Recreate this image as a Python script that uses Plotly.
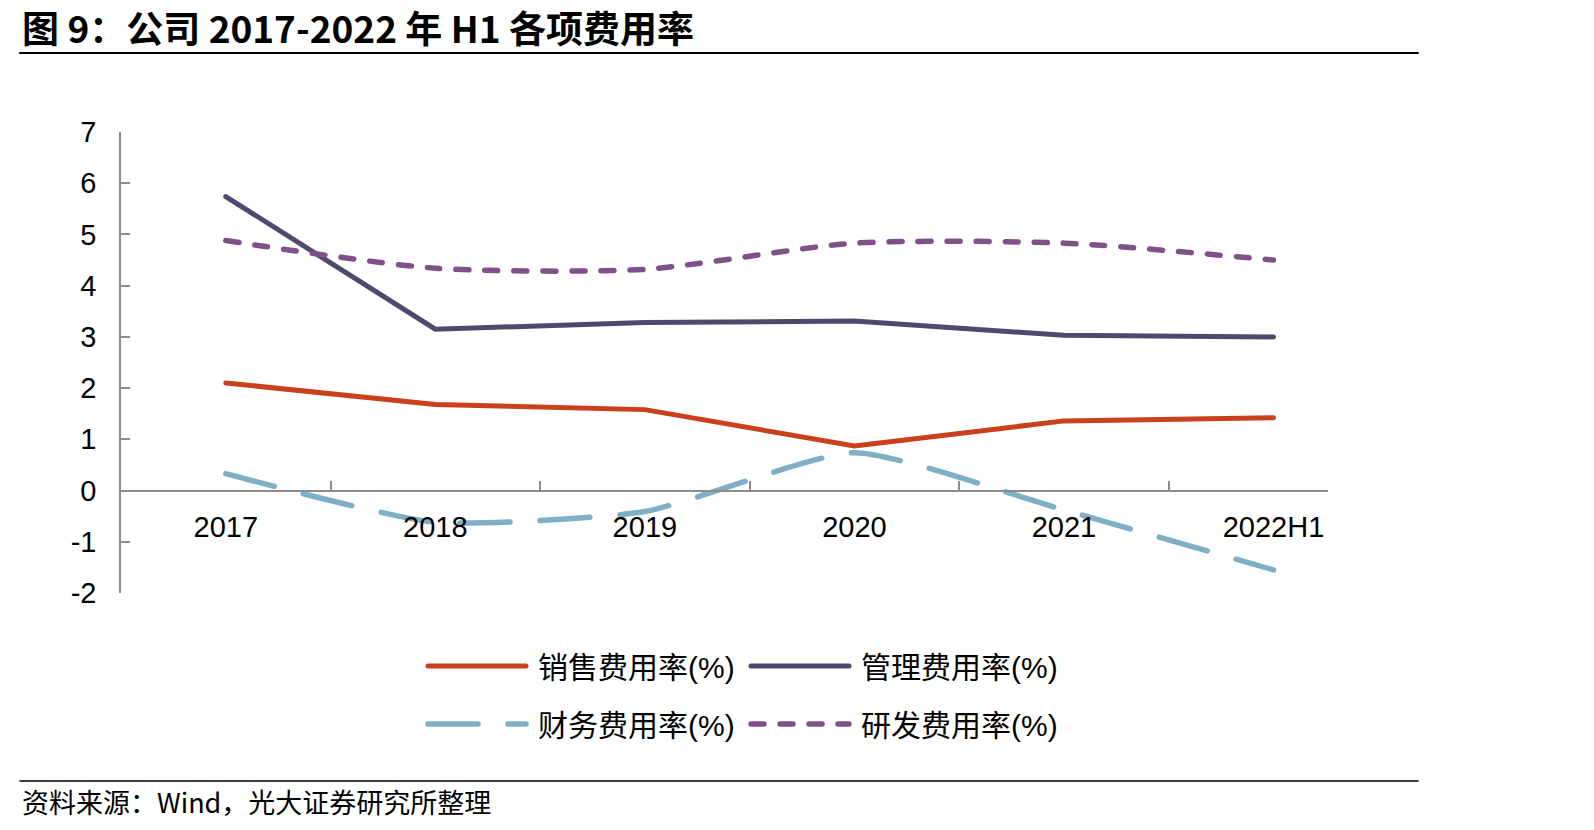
import plotly.graph_objects as go

# ---------------- data ----------------
categories = ["2017", "2018", "2019", "2020", "2021", "2022H1"]
sales_rate = [2.10, 1.68, 1.58, 0.87, 1.36, 1.42]      # 销售费用率(%)
admin_rate = [5.74, 3.15, 3.28, 3.31, 3.03, 3.00]      # 管理费用率(%)
finance_rate = [0.33, -0.62, -0.41, 0.74, -0.38, -1.55]  # 财务费用率(%)
rnd_rate = [4.88, 4.34, 4.32, 4.83, 4.83, 4.50]        # 研发费用率(%)
series_names = ["销售费用率(%)", "管理费用率(%)", "财务费用率(%)", "研发费用率(%)"]
y_ticks = [-2, -1, 0, 1, 2, 3, 4, 5, 6, 7]
y_ticktext = ["-2", "-1", "0", "1", "2", "3", "4", "5", "6", "7"]
title_text = "图 9：公司 2017-2022 年 H1 各项费用率"
source_text = "资料来源：Wind，光大证券研究所整理"

# ---------------- style ----------------
W, H = 1594, 830
ML, MR, MT, MB = 121, 266, 132, 237
PW, PH = W - ML - MR, H - MT - MB
RED, NAVY, BLUE, PURPLE = "#C9401D", "#4E496E", "#7FAFC4", "#7F5189"
AXIS = "#8C8C8C"
CJK = "Noto Sans CJK SC"
LAT = "Liberation Sans, Arial, sans-serif"
MIX = "Liberation Sans, Noto Sans CJK SC, sans-serif"

def xp(px):
    return (px - ML) / PW

def yp(py):
    return (H - MB - py) / PH

BLUE_DASH = "50px,30px"
PURPLE_DASH = "13px,16px"

fig = go.Figure()
styles = [
    dict(color=RED, width=5, dash="solid", shape="linear", smooth=0),
    dict(color=NAVY, width=5, dash="solid", shape="linear", smooth=0),
    dict(color=BLUE, width=5.5, dash=BLUE_DASH, shape="spline", smooth=0.55),
    dict(color=PURPLE, width=5.5, dash=PURPLE_DASH, shape="spline", smooth=0.7),
]
for name, vals, st in zip(series_names, [sales_rate, admin_rate, finance_rate, rnd_rate], styles):
    line = dict(color=st["color"], width=st["width"], dash=st["dash"], shape=st["shape"])
    if st["shape"] == "spline":
        line["smoothing"] = st["smooth"]
    fig.add_trace(go.Scatter(x=categories, y=vals, mode="lines", name=name, line=line,
                             showlegend=False, hoverinfo="skip"))

fig.update_layout(
    width=W, height=H,
    margin=dict(l=ML, r=MR, t=MT, b=MB, pad=0),
    paper_bgcolor="white", plot_bgcolor="white",
    showlegend=False,
    xaxis=dict(
        type="category", range=[-0.5, 5.26], anchor="free", position=2 / 9,
        showline=True, linecolor=AXIS, linewidth=1.5,
        ticks="inside", ticklen=9, tickwidth=1.5, tickcolor=AXIS, tickson="boundaries",
        showgrid=False, zeroline=False,
        tickfont=dict(family=LAT, size=29, color="#000000"), ticklabelstandoff=11,
    ),
    yaxis=dict(
        range=[-2, 7], domain=[0, 1], tickvals=y_ticks, ticktext=y_ticktext,
        showline=True, linecolor=AXIS, linewidth=1.5,
        ticks="inside", ticklen=9, tickwidth=1.5, tickcolor=AXIS,
        showgrid=False, zeroline=False,
        tickfont=dict(family=LAT, size=29, color="#000000"), ticklabelstandoff=17,
    ),
)

shapes = []
annotations = []
# title and rules
annotations.append(dict(xref="paper", yref="paper", x=xp(20), y=yp(27), xanchor="left", yanchor="middle",
                        text=title_text, showarrow=False,
                        font=dict(family=CJK, size=37, color="#000000", weight=700)))
shapes.append(dict(type="line", xref="paper", yref="paper", x0=xp(20), x1=xp(1418), y0=yp(53), y1=yp(53),
                   line=dict(color="#000000", width=2)))
shapes.append(dict(type="line", xref="paper", yref="paper", x0=xp(20), x1=xp(1418), y0=yp(781), y1=yp(781),
                   line=dict(color="#000000", width=1.5)))
annotations.append(dict(xref="paper", yref="paper", x=xp(20), y=yp(801), xanchor="left", yanchor="middle",
                        text=source_text, showarrow=False,
                        font=dict(family=CJK, size=27, color="#000000")))

# manual legend
legend_pos = [(425, 666), (748, 666), (425, 724), (748, 724)]
for (lx, ly), name, st in zip(legend_pos, series_names, styles):
    shapes.append(dict(type="line", xref="paper", yref="paper", x0=xp(lx + 3), x1=xp(lx + 101),
                       y0=yp(ly), y1=yp(ly),
                       line=dict(color=st["color"], width=st["width"], dash=st["dash"])))
    annotations.append(dict(xref="paper", yref="paper", x=xp(lx + 111), y=yp(ly + 1), xanchor="left",
                            yanchor="middle", text=name, showarrow=False,
                            font=dict(family=MIX, size=30, color="#000000")))

fig.update_layout(shapes=shapes, annotations=annotations)

post = """
document.querySelectorAll('.scatterlayer .js-line, .shapelayer path').forEach(function(p){
  p.style.strokeLinecap='round';
});
"""
fig.write_html("out.html", post_script=post)
